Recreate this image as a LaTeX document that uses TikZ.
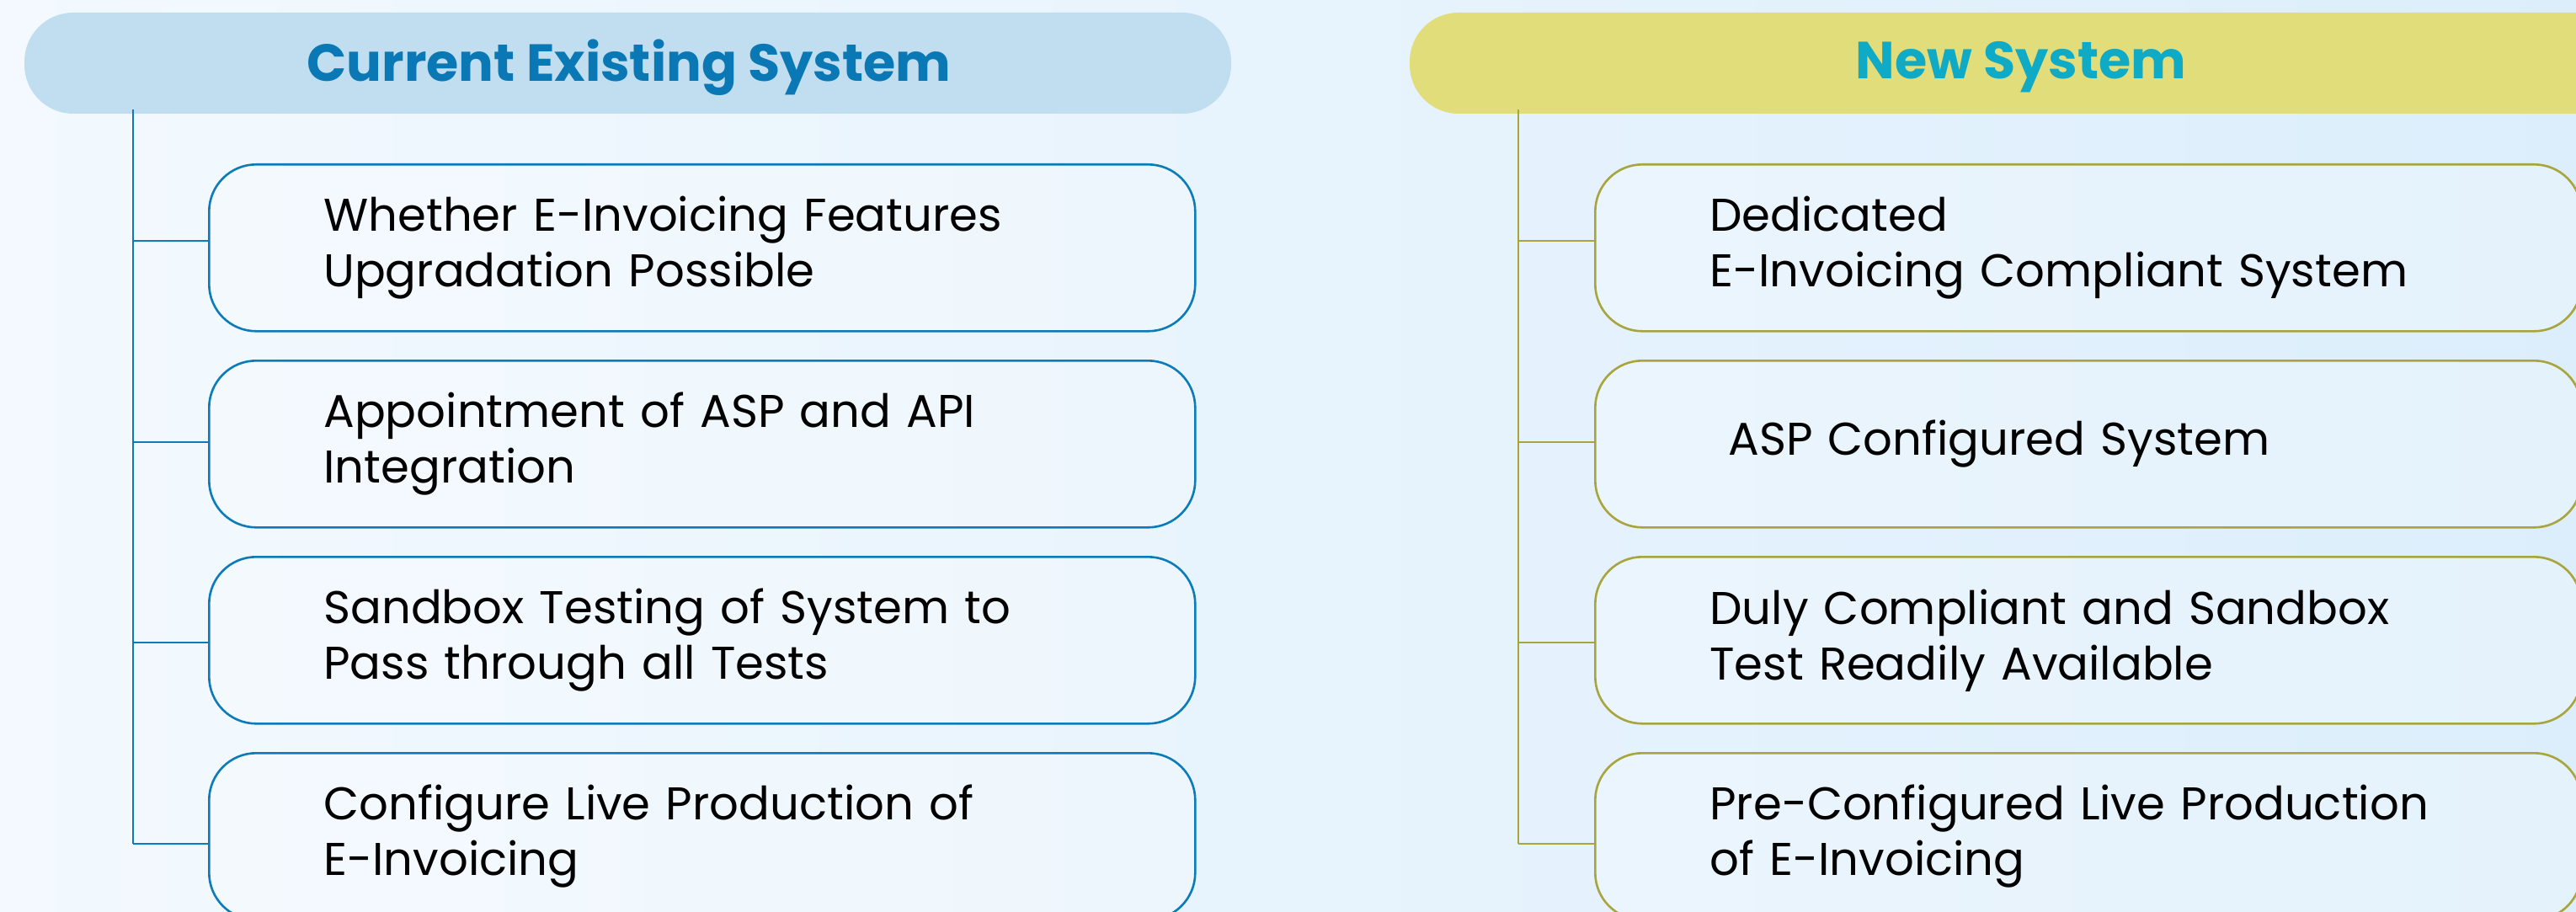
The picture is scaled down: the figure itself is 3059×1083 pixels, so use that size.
\documentclass[tikz,border=0pt]{standalone}
\usepackage{fontspec}
\setmainfont{Poppins}
\definecolor{bgL}{HTML}{F3F9FE}
\definecolor{bgR}{HTML}{DCEEFC}
\definecolor{hdrA}{HTML}{C0DEF0}
\definecolor{hdrB}{HTML}{E1DD7A}
\definecolor{blueline}{HTML}{0B7BBA}
\definecolor{oliveline}{HTML}{A9A53D}
\definecolor{titleA}{HTML}{0A78B5}
\definecolor{titleB}{HTML}{0FAAC6}
\tikzset{
  hdr/.style={rounded corners=58pt, inner sep=0pt, font=\fontsize{62}{70}\selectfont\bfseries},
  itembox/.style={draw, line width=2.6pt, rounded corners=56pt, minimum width=1171pt, minimum height=198pt,
    text width=899pt, inner xsep=136pt, align=left, anchor=north west, fill=white, fill opacity=0.25, text opacity=1,
    font=\fontsize{54.5}{66}\selectfont},
  trunkA/.style={draw=blueline, line width=2.2pt},
  trunkB/.style={draw=oliveline, line width=2.2pt},
}
\begin{document}
\begin{tikzpicture}[x=1pt,y=-1pt]
\useasboundingbox (0,0) rectangle (3059,1083);
\shade[left color=bgL, right color=bgR] (0,0) rectangle (3059,1083);
% headers
\fill[hdrA, rounded corners=58pt] (29,15) rectangle (1462,135);
\node[hdr, text=titleA] (hA) at (747,80) {Current Existing System};
\fill[hdrB, rounded corners=58pt] (1674,15) rectangle (3140,135);
\node[hdr, text=titleB] (hB) at (2400,80) {New System};
% left column boxes
\node[itembox, draw=blueline] (a1) at (247,194) {Whether E-Invoicing Features\\Upgradation Possible};
\node[itembox, draw=blueline] (a2) at (247,427) {Appointment of ASP and API\\Integration};
\node[itembox, draw=blueline] (a3) at (247,660) {Sandbox Testing of System to\\Pass through all Tests};
\node[itembox, draw=blueline] (a4) at (247,893) {Configure Live Production of\\E-Invoicing};
% right column boxes
\node[itembox, draw=oliveline] (b1) at (1893,194) {Dedicated\\E-Invoicing Compliant System};
\node[itembox, draw=oliveline] (b2) at (1893,427) {\hspace*{22pt}\raisebox{-6pt}{ASP Configured System}};
\node[itembox, draw=oliveline] (b3) at (1893,660) {Duly Compliant and Sandbox\\Test Readily Available};
\node[itembox, draw=oliveline] (b4) at (1893,893) {Pre-Configured Live Production\\of E-Invoicing};
% left trunk
\coordinate (ta) at (158,130);
\coordinate (ja1) at (158,286);
\coordinate (ja2) at (158,525);
\coordinate (ja3) at (158,763);
\coordinate (ja4) at (158,1002);
\draw[trunkA] (ta) -- (ja4);
\foreach \i in {1,2,3,4} \draw[trunkA] (ja\i) -- (ja\i -| a\i.west);
% right trunk
\coordinate (tb) at (1803,130);
\coordinate (jb1) at (1803,286);
\coordinate (jb2) at (1803,525);
\coordinate (jb3) at (1803,763);
\coordinate (jb4) at (1803,1002);
\draw[trunkB] (tb) -- (jb4);
\foreach \i in {1,2,3,4} \draw[trunkB] (jb\i) -- (jb\i -| b\i.west);
\end{tikzpicture}
\end{document}
